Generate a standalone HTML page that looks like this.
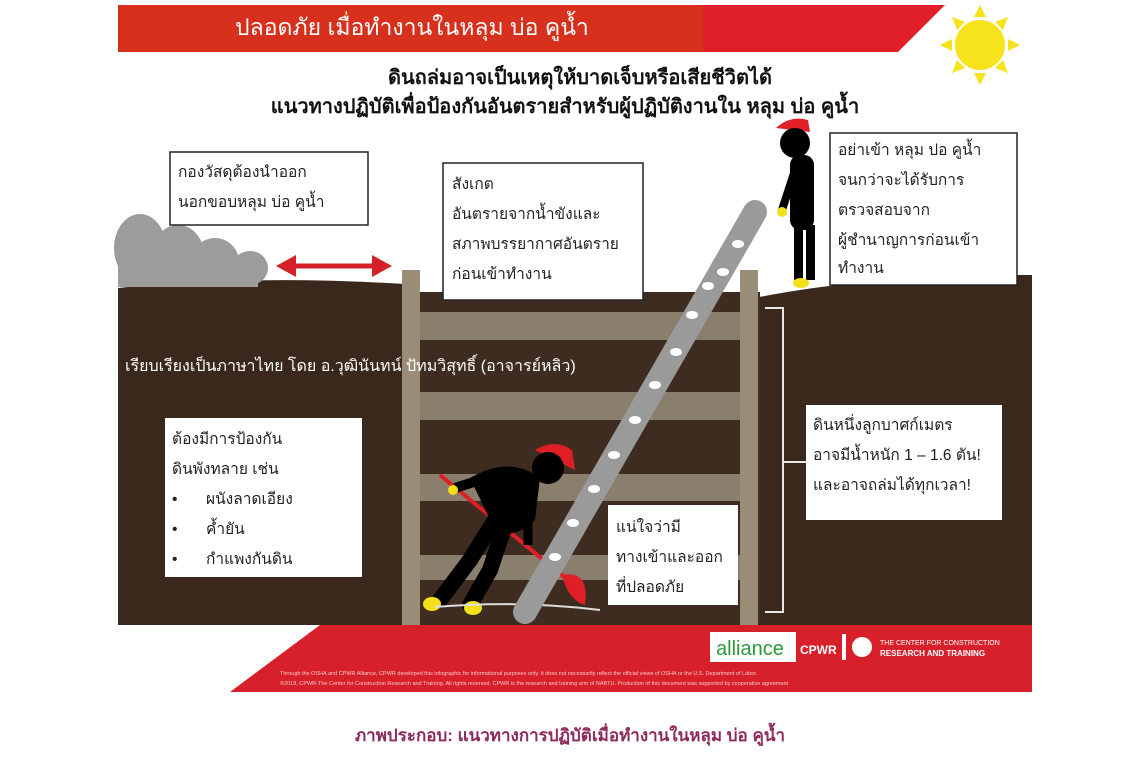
<!DOCTYPE html>
<html><head><meta charset="utf-8"><style>
html,body{margin:0;padding:0;background:#fff;}
svg{display:block;}
text{font-family:"Liberation Sans","DejaVu Sans","Noto Sans CJK SC",sans-serif;}
</style></head><body>
<svg width="1140" height="760" viewBox="0 0 1140 760" xmlns="http://www.w3.org/2000/svg">
<rect width="1140" height="760" fill="#fff"/>
<!-- header -->
<polygon points="118,5 945,5 898,52 118,52" fill="#e01f2a"/>
<rect x="118" y="5" width="585" height="47" fill="#d7301c"/>
<text x="235" y="35" font-size="23" fill="#fff">ปลอดภัย  เมื่อทำงานในหลุม  บ่อ  คูน้ำ</text>
<!-- sun -->
<g fill="#f7e31c">
<circle cx="980" cy="45" r="25"/>
<polygon points="980,5 974,17 986,17"/><polygon points="980,85 974,73 986,73"/>
<polygon points="940,45 952,39 952,51"/><polygon points="1020,45 1008,39 1008,51"/>
<polygon points="952,17 957,30 965,22"/><polygon points="1008,17 995,22 1003,30"/>
<polygon points="952,73 965,68 957,60"/><polygon points="1008,73 1003,60 995,68"/>
</g>
<text x="580" y="84" font-size="20" font-weight="bold" fill="#111" text-anchor="middle">ดินถล่มอาจเป็นเหตุให้บาดเจ็บหรือเสียชีวิตได้</text>
<text x="565" y="113" font-size="20" font-weight="bold" fill="#111" text-anchor="middle">แนวทางปฏิบัติเพื่อป้องกันอันตรายสำหรับผู้ปฏิบัติงานใน  หลุม บ่อ คูน้ำ</text>
<!-- ground -->
<path d="M118,288 Q260,274 420,285 L420,625 L118,625 Z" fill="#3a281c"/>
<path d="M745,300 Q860,275 1032,275 L1032,625 L745,625 Z" fill="#3a281c"/>
<rect x="405" y="292" width="355" height="333" fill="#3e2c20"/>
<g fill="#8a7e6c">
<rect x="418" y="312" width="325" height="28"/>
<rect x="418" y="392" width="325" height="28"/>
<rect x="418" y="474" width="325" height="27"/>
<rect x="418" y="555" width="325" height="25"/>
</g>
<rect x="402" y="270" width="18" height="355" fill="#9a8d78"/>
<rect x="740" y="270" width="18" height="355" fill="#9a8d78"/>
<!-- rocks -->
<g fill="#9c9c9c">
<ellipse cx="140" cy="248" rx="26" ry="34"/><ellipse cx="178" cy="255" rx="26" ry="30"/><ellipse cx="215" cy="262" rx="24" ry="24"/><ellipse cx="250" cy="268" rx="18" ry="17"/>
<rect x="118" y="255" width="140" height="32"/>
</g>
<!-- arrow -->
<line x1="292" y1="266" x2="378" y2="266" stroke="#d62027" stroke-width="5"/>
<polygon points="276,266 296,255 296,277" fill="#d62027"/>
<polygon points="392,266 372,255 372,277" fill="#d62027"/>
<!-- bracket -->
<path d="M765,308 H783 V612 H765 M783,462 H806" stroke="#e8e8e8" stroke-width="2" fill="none"/>
<!-- standing person -->
<g>
<path d="M776,128 Q790,115 808,120 L810,132 Z" fill="#e01e26"/>
<circle cx="795" cy="143" r="15" fill="#000"/>
<rect x="790" y="155" width="24" height="75" rx="10" fill="#000"/>
<rect x="794" y="225" width="9" height="55" fill="#000"/>
<rect x="806" y="225" width="9" height="55" fill="#000"/>
<ellipse cx="801" cy="283" rx="8" ry="5" fill="#f2e01a"/>
<path d="M795,170 L782,210" stroke="#000" stroke-width="8"/>
<circle cx="782" cy="212" r="5" fill="#f2e01a"/>
</g>
<!-- worker -->
<g>
<line x1="440" y1="475" x2="580" y2="590" stroke="#e01e26" stroke-width="4"/>
<path d="M562,575 Q590,570 585,605 Q568,600 562,575 Z" fill="#e01e26"/>
<path d="M535,450 Q555,438 572,450 L575,470 Z" fill="#e01e26"/>
<circle cx="548" cy="468" r="16" fill="#000"/>
<path d="M470,478 Q510,455 540,478 L535,520 Q515,540 495,530 Z" fill="#000"/>
<path d="M495,520 L470,560 L440,600 M505,525 L490,570 L470,605" stroke="#000" stroke-width="16" fill="none" stroke-linecap="round"/>
<path d="M480,480 L455,488" stroke="#000" stroke-width="10"/>
<path d="M528,500 L528,545" stroke="#000" stroke-width="9"/>
<ellipse cx="432" cy="604" rx="9" ry="7" fill="#f2e01a"/>
<ellipse cx="473" cy="608" rx="9" ry="7" fill="#f2e01a"/>
<circle cx="453" cy="490" r="5" fill="#f2e01a"/>
<path d="M435,607 Q520,600 600,610" stroke="#ddd" stroke-width="2" fill="none"/>
</g>
<!-- ladder -->
<line x1="755" y1="212" x2="525" y2="612" stroke="#9a9a9a" stroke-width="24" stroke-linecap="round"/>
<g fill="#fff">
<ellipse cx="738" cy="244" rx="6" ry="4"/><ellipse cx="723" cy="272" rx="6" ry="4"/>
<ellipse cx="708" cy="286" rx="6" ry="4"/><ellipse cx="692" cy="315" rx="6" ry="4"/>
<ellipse cx="676" cy="352" rx="6" ry="4"/><ellipse cx="655" cy="385" rx="6" ry="4"/>
<ellipse cx="635" cy="420" rx="6" ry="4"/><ellipse cx="614" cy="455" rx="6" ry="4"/>
<ellipse cx="594" cy="489" rx="6" ry="4"/><ellipse cx="573" cy="523" rx="6" ry="4"/>
<ellipse cx="555" cy="557" rx="6" ry="4"/>
</g>
<!-- boxes -->
<g fill="#fff" stroke="#222" stroke-width="1.5">
<rect x="170" y="152" width="198" height="73"/>
<rect x="443" y="163" width="200" height="137"/>
<rect x="830" y="133" width="187" height="152"/>
<rect x="165" y="418" width="197" height="159" stroke="none"/>
<rect x="806" y="405" width="196" height="115" stroke="none"/>
<rect x="608" y="505" width="130" height="100" stroke="none"/>
</g>
<g font-size="15.5" fill="#222">
<text x="178" y="177">กองวัสดุต้องนำออก</text>
<text x="178" y="207">นอกขอบหลุม บ่อ คูน้ำ</text>
<text x="452" y="189">สังเกต</text>
<text x="452" y="219">อันตรายจากน้ำขังและ</text>
<text x="452" y="249">สภาพบรรยากาศอันตราย</text>
<text x="452" y="279">ก่อนเข้าทำงาน</text>
<text x="838" y="155">อย่าเข้า หลุม ปอ คูน้ำ</text>
<text x="838" y="185">จนกว่าจะได้รับการ</text>
<text x="838" y="215">ตรวจสอบจาก</text>
<text x="838" y="245">ผู้ชำนาญการก่อนเข้า</text>
<text x="838" y="273">ทำงาน</text>
<text x="172" y="444">ต้องมีการป้องกัน</text>
<text x="172" y="474">ดินพังทลาย เช่น</text>
<text x="172" y="504">•</text><text x="206" y="504">ผนังลาดเอียง</text>
<text x="172" y="534">•</text><text x="206" y="534">ค้ำยัน</text>
<text x="172" y="564">•</text><text x="206" y="564">กำแพงกันดิน</text>
<text x="813" y="430">ดินหนึ่งลูกบาศก์เมตร</text>
<text x="813" y="460">อาจมีน้ำหนัก 1 – 1.6 ตัน!</text>
<text x="813" y="490">และอาจถล่มได้ทุกเวลา!</text>
<text x="616" y="532">แน่ใจว่ามี</text>
<text x="616" y="562">ทางเข้าและออก</text>
<text x="616" y="592">ที่ปลอดภัย</text>
</g>
<text x="125" y="371" font-size="16" fill="#fff">เรียบเรียงเป็นภาษาไทย โดย อ.วุฒินันทน์ ปัทมวิสุทธิ์ (อาจารย์หลิว)</text>
<!-- footer band -->
<polygon points="320,625 1032,625 1032,692 230,692" fill="#d8202a"/>
<rect x="710" y="632" width="86" height="30" fill="#fff"/>
<text x="716" y="655" font-size="20" fill="#2a9a3a">alliance</text>
<text x="800" y="654" font-size="12" font-weight="bold" fill="#fff">CPWR</text>
<rect x="842" y="634" width="4" height="26" fill="#fff"/>
<circle cx="862" cy="647" r="10" fill="#fff"/>
<text x="880" y="645" font-size="7" fill="#fff">THE CENTER FOR CONSTRUCTION</text>
<text x="880" y="656" font-size="8" font-weight="bold" fill="#fff">RESEARCH AND TRAINING</text>
<text x="280" y="675" font-size="5.5" fill="#f6c9c9">Through the OSHA and CPWR Alliance, CPWR developed this infographic for informational purposes only. It does not necessarily reflect the official views of OSHA or the U.S. Department of Labor.</text>
<text x="280" y="685" font-size="5.5" fill="#f6c9c9">©2018, CPWR-The Center for Construction Research and Training. All rights reserved. CPWR is the research and training arm of NABTU. Production of this document was supported by cooperative agreement</text>
<!-- caption -->
<text x="570" y="741" font-size="17" font-weight="bold" fill="#8c2a5c" text-anchor="middle">ภาพประกอบ: แนวทางการปฏิบัติเมื่อทำงานในหลุม บ่อ คูน้ำ</text>
</svg>
</body></html>
